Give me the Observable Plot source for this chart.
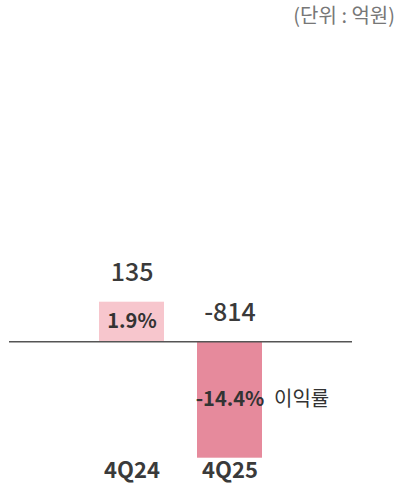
<!DOCTYPE html>
<html><head><meta charset="utf-8">
<script src="https://cdn.jsdelivr.net/npm/d3@7"></script>
<script src="https://cdn.jsdelivr.net/npm/@observablehq/plot@0.6"></script>
<style>
html,body{margin:0;padding:0;background:#fff;}
#wrap{position:relative;width:400px;height:491px;font-family:"Noto Sans CJK KR","Noto Sans",sans-serif;}
#unit{position:absolute;right:5px;top:2px;font-size:20px;line-height:26px;color:#777;}
</style>
</head><body>
<div id="wrap"><div id="unit">(단위 : 억원)</div></div>
<script>
const periods = ["4Q24", "4Q25"];
const profits = [135, -814];
const margins = ["1.9%", "-14.4%"];
const colors = ["#f7c6cd", "#e68a9c"];
const marginLabel = "이익률";

const exponent = 0.6;
const data = periods.map((p, i) => ({
  period: p, value: profits[i], margin: margins[i], color: colors[i],
  top: Math.max(0, profits[i]),
  mid: profits[i] * Math.pow(0.5, 1 / exponent)
}));

const chart = Plot.plot({
  width: 400, height: 491,
  marginLeft: 9, marginRight: 48, marginTop: 301.7, marginBottom: 33.3,
  style: {fontFamily: '"Noto Sans CJK KR","Noto Sans",sans-serif', background: "transparent"},
  x: {domain: periods, paddingInner: 0.333, paddingOuter: 0.9, axis: null},
  y: {type: "pow", exponent, domain: d3.extent(profits), axis: null},
  marks: [
    Plot.barY(data, {x: "period", y: "value", fill: "color"}),
    Plot.ruleY([0], {stroke: "#555", strokeWidth: 1.5}),
    Plot.text(data, {x: "period", y: "top", text: d => String(d.value), dy: -29, fontSize: 25, fontWeight: 500, fill: "#3a3a3a"}),
    Plot.text(data, {x: "period", y: "mid", text: "margin", fontSize: 20, fontWeight: 700, fill: "#333"}),
    Plot.text(data.slice(1), {x: "period", y: "mid", text: () => marginLabel, dx: 44, textAnchor: "start", fontSize: 20, fill: "#333"}),
    Plot.text(data, {x: "period", frameAnchor: "bottom", text: "period", dy: 20, fontSize: 22, fontWeight: 700, fill: "#3a3a3a"})
  ]
});
chart.style.position = "absolute";
chart.style.left = "0"; chart.style.top = "0";
document.getElementById("wrap").appendChild(chart);
</script>
</body></html>
